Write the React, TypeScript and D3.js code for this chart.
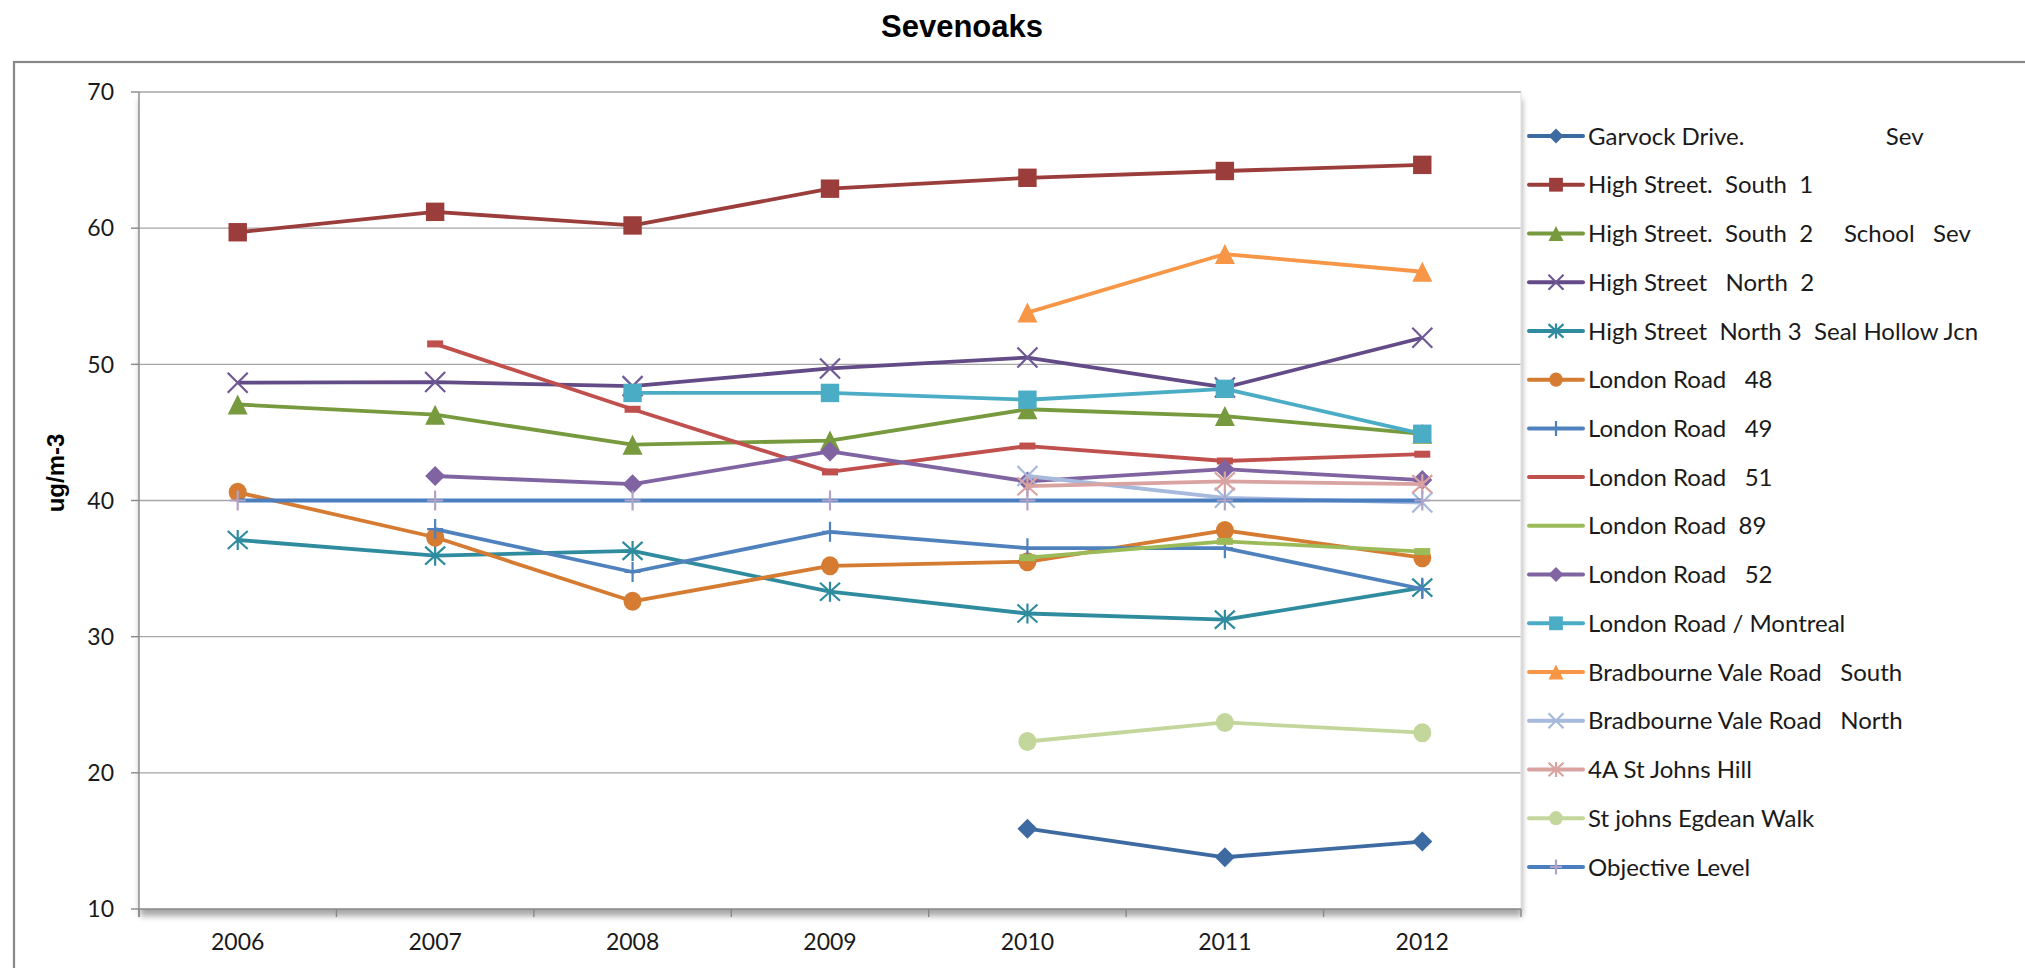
import React from "react";
import * as d3 from "d3";

const years = ["2006", "2007", "2008", "2009", "2010", "2011", "2012"];
const yTicks = [10, 20, 30, 40, 50, 60, 70];
const chartTitle = "Sevenoaks";
const yAxisTitle = "ug/m-3";

const garvock = [null, null, null, null, 15.9, 13.8, 14.95];
const highSouth1 = [59.7, 61.2, 60.2, 62.9, 63.7, 64.2, 64.65];
const highSouth2 = [47.05, 46.3, 44.1, 44.4, 46.7, 46.2, 44.9];
const highNorth2 = [48.65, 48.7, 48.4, 49.7, 50.5, 48.3, 51.95];
const highNorth3 = [37.1, 35.95, 36.3, 33.3, 31.7, 31.25, 33.6];
const london48 = [40.6, 37.3, 32.6, 35.2, 35.5, 37.8, 35.8];
const london49 = [null, 37.9, 34.75, 37.7, 36.5, 36.5, 33.5];
const london51 = [null, 51.5, 46.7, 42.1, 44.0, 42.9, 43.4];
const london89 = [null, null, null, null, 35.8, 37.0, 36.25];
const london52 = [null, 41.8, 41.2, 43.6, 41.4, 42.3, 41.5];
const montreal = [null, null, 47.9, 47.9, 47.4, 48.2, 44.9];
const bradSouth = [null, null, null, null, 53.8, 58.1, 56.8];
const bradNorth = [null, null, null, null, 41.8, 40.2, 39.85];
const stJohnsHill = [null, null, null, null, 41.05, 41.4, 41.2];
const egdean = [null, null, null, null, 22.3, 23.7, 22.95];
const objective = [40, 40, 40, 40, 40, 40, 40];

const seriesNames = [
  "Garvock Drive.                       Sev",
  "High Street.  South  1",
  "High Street.  South  2     School   Sev",
  "High Street   North  2",
  "High Street  North 3  Seal Hollow Jcn",
  "London Road   48",
  "London Road   49",
  "London Road   51",
  "London Road  89",
  "London Road   52",
  "London Road / Montreal",
  "Bradbourne Vale Road   South",
  "Bradbourne Vale Road   North",
  "4A St Johns Hill",
  "St johns Egdean Walk",
  "Objective Level",
];
const seriesValues = [
  garvock, highSouth1, highSouth2, highNorth2, highNorth3, london48, london49,
  london51, london89, london52, montreal, bradSouth, bradNorth, stJohnsHill,
  egdean, objective,
];
const seriesColors = [
  "#3D6AA1", "#9B3D3B", "#779A3E", "#624B87", "#2F8C9F", "#D57B32", "#4F81BD",
  "#C0504D", "#9BBB59", "#8064A2", "#4BACC6", "#F79646", "#A7B9DC", "#D9A3A2",
  "#C3D69B", "#4A7EBF",
];
const markerColors = [
  "#3D6AA1", "#9B3D3B", "#779A3E", "#6E5896", "#2F8C9F", "#D57B32", "#4F81BD",
  "#C0504D", "#9BBB59", "#8064A2", "#4BACC6", "#F79646", "#A7B9DC", "#D9A3A2",
  "#C3D69B", "#B3A2C7",
];
const markerTypes = [
  "diamond", "square", "triangle", "x", "star", "circle", "plus", "dash",
  "dash", "diamond", "square", "triangle", "x", "star", "circle", "plus",
];

const W = 2025;
const H = 968;
const plotL = 139;
const plotR = 1521;
const plotT = 92;
const plotB = 909;

function Marker({ type, color, cx, cy, s }) {
  const t = `translate(${cx},${cy})`;
  switch (type) {
    case "diamond":
      return <path transform={t} d={`M0,${-s}L${s},0L0,${s}L${-s},0Z`} fill={color} />;
    case "square":
      return <rect x={cx - s * 0.92} y={cy - s * 0.92} width={s * 1.84} height={s * 1.84} fill={color} />;
    case "triangle":
      return <path transform={t} d={`M0,${-s}L${s},${s}L${-s},${s}Z`} fill={color} />;
    case "circle":
      return <ellipse cx={cx} cy={cy} rx={s * 0.9} ry={s * 0.95} fill={color} />;
    case "x":
      return (
        <path transform={t} d={`M${-s},${-s}L${s},${s}M${-s},${s}L${s},${-s}`} stroke={color} strokeWidth={2.2} fill="none" />
      );
    case "star":
      return (
        <path transform={t} d={`M${-s},${-s * 0.9}L${s},${s * 0.9}M${-s},${s * 0.9}L${s},${-s * 0.9}M0,${-s}L0,${s}`} stroke={color} strokeWidth={2.2} fill="none" />
      );
    case "plus":
      return (
        <path transform={t} d={`M0,${-s}L0,${s}M${-s * 0.8},0L${s * 0.8},0`} stroke={color} strokeWidth={2.2} fill="none" />
      );
    case "dash":
      return <rect x={cx - 8} y={cy - 3.5} width={16} height={7} fill={color} />;
    default:
      return null;
  }
}

export default function App() {
  const x = d3.scaleBand().domain(years).range([plotL, plotR]);
  const y = d3.scaleLinear().domain([10, 70]).range([plotB, plotT]);
  const cx = (yr) => (x(yr) as number) + x.bandwidth() / 2;
  const line = d3
    .line<any>()
    .defined((d) => d.v != null)
    .x((d) => cx(d.yr))
    .y((d) => y(d.v));

  const boundaries = years.map((yr) => x(yr) as number).concat([plotR]);
  const legendX = 1529;
  const legendY0 = 136;
  const legendStep = 48.73;

  return (
    <svg width={W} height={H} style={{ display: "block", position: "absolute", left: 0, top: 0 }}>
      <defs>
        <filter id="plotShadow" x="-5%" y="-5%" width="110%" height="115%">
          <feDropShadow dx="1" dy="7" stdDeviation="3" floodColor="#000" floodOpacity="0.35" />
        </filter>
      </defs>
      <rect x={0} y={0} width={W} height={H} fill="#fff" />
      <rect x={14} y={62} width={2200} height={1100} fill="#fff" stroke="#888" strokeWidth={2.2} />
      <text x={962} y={37} textAnchor="middle" fontFamily="'Liberation Sans', Arial, sans-serif" fontWeight="bold" fontSize={31} fill="#000">
        {chartTitle}
      </text>

      <rect x={plotL} y={plotT} width={plotR - plotL} height={plotB - plotT} fill="#fff" filter="url(#plotShadow)" />

      {yTicks.map((t) => (
        <g key={t}>
          {t > 10 && <line x1={plotL} x2={plotR} y1={y(t)} y2={y(t)} stroke="#A6A6A6" strokeWidth={1.4} />}
          <line x1={plotL - 8} x2={plotL} y1={y(t)} y2={y(t)} stroke="#888" strokeWidth={1.4} />
          <text x={114} y={y(t)} dy="0.36em" textAnchor="end" fontFamily="Lato, sans-serif" fontSize={23} fill="#1a1a1a">
            {t}
          </text>
        </g>
      ))}
      <line x1={plotR} x2={plotR} y1={plotT} y2={plotB} stroke="#E4E4E4" strokeWidth={1.2} />
      <line x1={plotL} x2={plotL} y1={plotT} y2={plotB + 8} stroke="#888" strokeWidth={1.4} />
      <line x1={plotL} x2={plotR} y1={plotB} y2={plotB} stroke="#888" strokeWidth={1.4} />
      {boundaries.map((b, i) => (
        <line key={i} x1={b} x2={b} y1={plotB} y2={plotB + 8} stroke="#888" strokeWidth={1.4} />
      ))}
      {years.map((yr) => (
        <text key={yr} x={cx(yr)} y={950} textAnchor="middle" fontFamily="Lato, sans-serif" fontSize={23} fill="#1a1a1a">
          {yr}
        </text>
      ))}
      <text transform="translate(64,473) rotate(-90)" textAnchor="middle" fontFamily="'Liberation Sans', Arial, sans-serif" fontWeight="bold" fontSize={24} fill="#000">
        {yAxisTitle}
      </text>

      {seriesValues.map((vals, i) => {
        const pts = vals.map((v, k) => ({ yr: years[k], v }));
        return (
          <g key={i}>
            <path d={line(pts) || ""} fill="none" stroke={seriesColors[i]} strokeWidth={i === 15 ? 4.2 : 3.8} strokeLinejoin="round" />
            {pts
              .filter((p) => p.v != null)
              .map((p, k) => (
                <Marker key={k} type={markerTypes[i]} color={markerColors[i]} cx={cx(p.yr)} cy={y(p.v as number)} s={10} />
              ))}
          </g>
        );
      })}

      {seriesNames.map((name, i) => {
        const ly = legendY0 + i * legendStep;
        return (
          <g key={name}>
            <line x1={legendX} x2={legendX + 54} y1={ly} y2={ly} stroke={seriesColors[i]} strokeWidth={4} strokeLinecap="round" />
            {markerTypes[i] !== "dash" && (
              <Marker type={markerTypes[i]} color={markerColors[i]} cx={legendX + 27} cy={ly} s={7.5} />
            )}
            <text x={legendX + 59} y={ly} dy="0.36em" fontFamily="Lato, sans-serif" fontSize={24} fill="#1a1a1a" style={{ whiteSpace: "pre" }}>
              {name}
            </text>
          </g>
        );
      })}
    </svg>
  );
}
